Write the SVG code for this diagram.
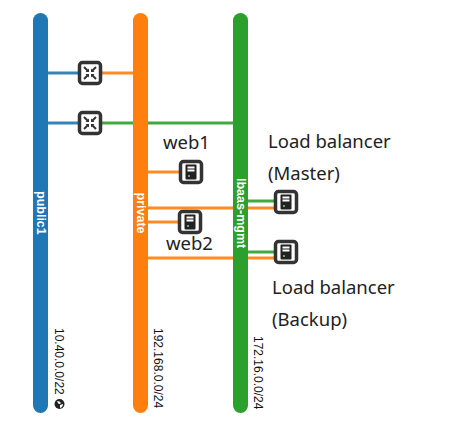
<svg xmlns="http://www.w3.org/2000/svg" width="459" height="439" viewBox="0 0 459 439">
<style>
.net{stroke:none}
.blue{stroke:#1f77b4}.orange{stroke:#ff7f0e}.green{stroke:#2ca02c}
line{stroke-width:3;opacity:.9}
.name{font:bold 12.5px "Liberation Sans",Arial,sans-serif;fill:#fff}
.cidr{font:12px "Liberation Sans",Arial,sans-serif;fill:#111}
.lab{font:18.500px "Noto Sans","Open Sans",sans-serif;fill:#222}
.box{fill:#fff;stroke:#333;stroke-width:3.500}
.g{fill:#333}
.arr{stroke:#333;stroke-width:2;fill:none}
</style>
<defs>
<g id="router">
<rect class="box" x="-10.500" y="-10.500" width="21" height="21" rx="3"/>
<path class="arr" d="M-6-6L-2-2M6-6L2-2M-6 6L-2 2M6 6L2 2"/>
<path class="g" d="M-1-1V-4.500L-4.500-1ZM1-1V-4.500L4.500-1ZM-1 1V4.500L-4.500 1ZM1 1V4.500L4.500 1Z"/>
</g>
<g id="server">
<rect class="box" x="-10.500" y="-10.500" width="21" height="21" rx="3"/>
<rect fill="#222" x="-5.500" y="-7.500" width="11" height="15" rx="1"/>
<rect x="-3.500" y="-5.500" width="7" height="2" fill="#fff"/>
<rect x="-3.500" y="-2.500" width="7" height="2" fill="#fff"/>
<circle cx="-2" cy="4" r="1" fill="#8c8"/>
</g>
</defs>
<g id="connectors">
<line class="blue" x1="48" y1="73" x2="79" y2="73"/>
<line class="orange" x1="101" y1="73" x2="133" y2="73"/>
<line class="blue" x1="48" y1="123" x2="79" y2="123"/>
<line class="green" x1="101" y1="123" x2="233" y2="123"/>
<line class="orange" x1="148" y1="172" x2="180" y2="172"/>
<line class="orange" x1="148" y1="208" x2="233" y2="208"/>
<line class="orange" x1="248" y1="208" x2="275" y2="208"/>
<line class="green" x1="248" y1="201" x2="275" y2="201"/>
<line class="orange" x1="148" y1="222" x2="179" y2="222"/>
<line class="orange" x1="148" y1="258" x2="233" y2="258"/>
<line class="orange" x1="248" y1="258" x2="275" y2="258"/>
<line class="green" x1="248" y1="252" x2="275" y2="252"/>
</g>
<g id="net-public1">
<rect class="net" x="33" y="13" width="15" height="400" rx="7.500" fill="#1f77b4"/>
<text class="name" transform="translate(36.500,191) rotate(90)">public1</text>
<text class="cidr" transform="translate(55,328) rotate(90)">10.40.0.0/22</text>
<circle cx="59.500" cy="404" r="5" fill="#222"/>
<path d="M57 401q3 0 4 2q-2 2-3 0ZM60 405l3-1q0 3-3 4Z" fill="#fff"/>
</g>
<g id="net-private">
<rect class="net" x="133" y="13" width="15" height="400" rx="7.500" fill="#ff7f0e"/>
<text class="name" transform="translate(136.500,192.500) rotate(90)">private</text>
<text class="cidr" transform="translate(154,328) rotate(90)">192.168.0.0/24</text>
</g>
<g id="net-lbaas-mgmt">
<rect class="net" x="233" y="13" width="15" height="400" rx="7.500" fill="#2ca02c"/>
<text class="name" transform="translate(236.500,178) rotate(90)">lbaas-mgmt</text>
<text class="cidr" transform="translate(254,336) rotate(90)">172.16.0.0/24</text>
</g>
<g id="router1"><use href="#router" x="90" y="73"/></g>
<g id="router2"><use href="#router" x="90" y="123"/></g>
<g id="web1"><use href="#server" x="191" y="172"/><text class="lab" x="163" y="149">web1</text></g>
<g id="web2"><use href="#server" x="190" y="222"/><text class="lab" x="166" y="250">web2</text></g>
<g id="lb-master"><use href="#server" x="286" y="202"/><text class="lab" x="268" y="148">Load balancer</text><text class="lab" x="268" y="180">(Master)</text></g>
<g id="lb-backup"><use href="#server" x="286" y="252"/><text class="lab" x="272" y="294">Load balancer</text><text class="lab" x="272" y="326">(Backup)</text></g>
</svg>
